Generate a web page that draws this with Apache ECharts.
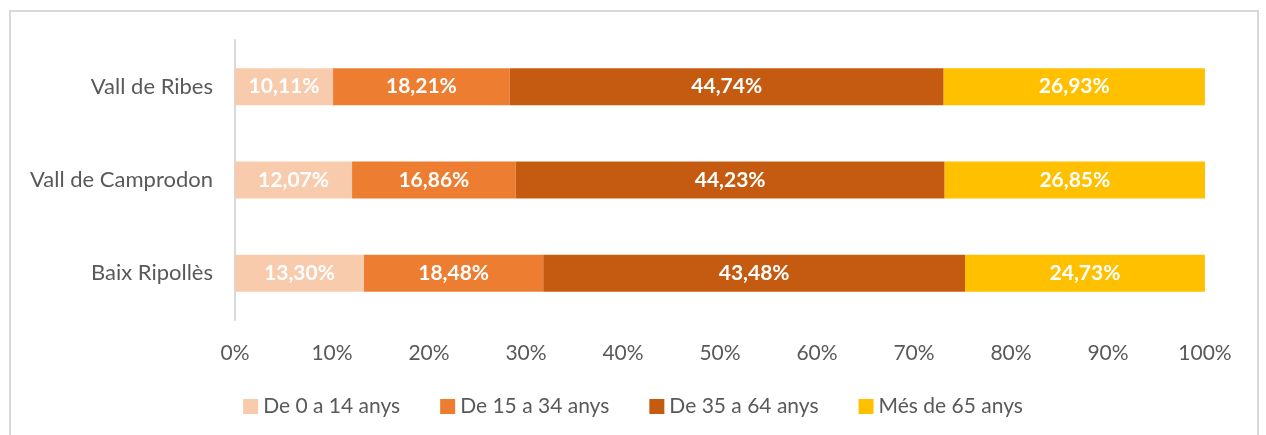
<!DOCTYPE html>
<html>
<head>
<meta charset="utf-8">
<script src="https://cdn.jsdelivr.net/npm/echarts@6/dist/echarts.min.js"></script>
<style>
  html, body { margin: 0; padding: 0; background: #fff; }
  #frame {
    position: absolute; left: 9px; top: 10px; width: 1250px; height: 440px;
    border: 2px solid #d9d9d9; box-sizing: border-box;
  }
  #chart { position: absolute; left: 0; top: 0; width: 1266px; height: 435px; }
</style>
</head>
<body>
<div id="frame"></div>
<div id="chart"></div>
<script>
const categories = ["Vall de Ribes", "Vall de Camprodon", "Baix Ripollès"];
const ageGroups = ["De 0 a 14 anys", "De 15 a 34 anys", "De 35 a 64 anys", "Més de 65 anys"];
const age0to14 = [10.11, 12.07, 13.30];
const age15to34 = [18.21, 16.86, 18.48];
const age35to64 = [44.74, 44.23, 43.48];
const age65plus = [26.93, 26.85, 24.73];
const xTicks = [0, 10, 20, 30, 40, 50, 60, 70, 80, 90, 100];
const colors = ["#F8CBAD", "#ED7D31", "#C55A11", "#FFC000"];

const font = "Lato, 'Open Sans', sans-serif";
const seriesData = [age0to14, age15to34, age35to64, age65plus];

const chart = echarts.init(document.getElementById("chart"));
chart.setOption({
  animation: false,
  textStyle: { fontFamily: font },
  grid: { left: 235, right: 61, top: 40, bottom: 115 },
  xAxis: {
    type: "value",
    min: xTicks[0],
    max: xTicks[xTicks.length - 1],
    interval: 10,
    axisLine: { show: false },
    axisTick: { show: false },
    splitLine: { show: false },
    axisLabel: {
      color: "#595959", fontSize: 21, margin: 23, fontFamily: font,
      formatter: (v) => v + "%"
    }
  },
  yAxis: {
    type: "category",
    inverse: true,
    data: categories,
    axisLine: { show: true, lineStyle: { color: "#d9d9d9", width: 2 } },
    axisTick: { show: false },
    axisLabel: { color: "#595959", fontSize: 22, margin: 22, fontFamily: font }
  },
  legend: {
    top: 391,
    left: "center",
    itemWidth: 15,
    itemHeight: 15,
    itemGap: 40,
    icon: "rect",
    textStyle: { color: "#595959", fontSize: 21, fontFamily: font },
    data: ageGroups
  },
  series: ageGroups.map((name, i) => ({
    name: name,
    type: "bar",
    stack: "total",
    barWidth: 37,
    data: seriesData[i],
    itemStyle: { color: colors[i] },
    label: {
      show: true,
      position: "inside",
      color: "#fff",
      fontWeight: "bold",
      fontSize: 21,
      fontFamily: font,
      formatter: (p) => p.value.toFixed(2).replace(".", ",") + "%"
    }
  }))
});
</script>
</body>
</html>
